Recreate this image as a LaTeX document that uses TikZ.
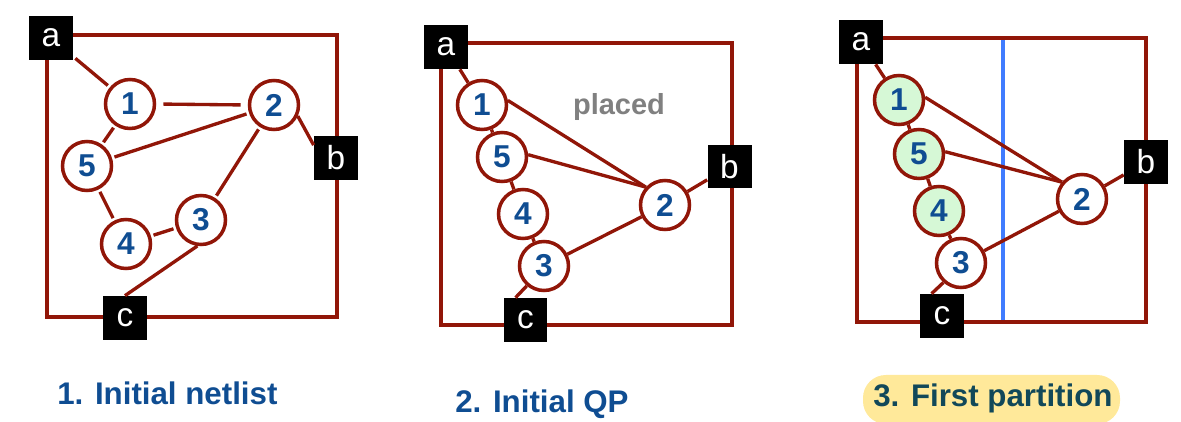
\documentclass[tikz,border=0pt]{standalone}
\usepackage{fontspec}
\setmainfont{Liberation Sans}
\definecolor{netred}{RGB}{145,22,8}
\definecolor{numblue}{RGB}{15,77,146}
\definecolor{darkteal}{RGB}{17,72,89}
\definecolor{cellgreen}{RGB}{214,248,214}
\definecolor{cutblue}{RGB}{64,124,255}
\definecolor{hilite}{RGB}{255,233,154}
\tikzset{
	frame/.style={draw=netred,line width=2.3pt},
	cell/.style={circle,draw=netred,line width=2pt,fill=white,minimum size=0.98cm,inner sep=0pt,
		text=numblue,font=\bfseries\fontsize{18}{18}\selectfont},
	placedcell/.style={cell,fill=cellgreen},
	pin/.style={fill=black,text=white,minimum size=0.88cm,inner sep=0pt,font=\fontsize{19}{19}\selectfont},
	wire/.style={draw=netred,line width=1.9pt},
	gapwire/.style={wire,shorten >=1.5pt,shorten <=1.5pt},
	caption/.style={anchor=base west,inner sep=0pt,text=numblue,font=\bfseries\fontsize{17.8}{20}\selectfont}
}
\begin{document}
\begin{tikzpicture}[x=0.02cm,y=-0.02cm]
	\useasboundingbox (0,0) rectangle (1181,422);
	% 1. initial netlist
	\draw[frame] (47,35) rectangle (337,317);
	\node[cell] (p1) at (130,104) {1};
	\node[cell] (p2) at (274,105) {2};
	\node[cell] (p3) at (201,220) {3};
	\node[cell] (p4) at (126,244) {4};
	\node[cell] (p5) at (87,166) {5};
	\node[pin] (pa) at (51,38) {a};
	\node[pin] (pb) at (336,158) {b};
	\node[pin] (pc) at (125,318) {c};
	\draw[gapwire] (pa) -- (p1);
	\draw[wire,shorten >=4pt,shorten <=4pt] (p1.east) -- (p2.west);
	\draw[gapwire] (p1) -- (p5);
	\draw[gapwire] (p5) -- (p2);
	\draw[gapwire] (p2) -- (p3);
	\draw[gapwire] (p5) -- (p4);
	\draw[gapwire] (p4) -- (p3);
	\draw[wire] (p3.262) -- (pc.north);
	\draw[wire] (p2.335) -- (pb.150);
	\node[caption] (cap1) at (57,405) {1. Initial netlist};
	% 2. initial QP
	\draw[frame] (441,43) rectangle (732,325);
	\node[text=gray,font=\bfseries\fontsize{16.5}{18}\selectfont] (lbl) at (619,107) {placed};
	\node[cell] (q1) at (482,105) {1};
	\node[cell] (q5) at (502,157) {5};
	\node[cell] (q4) at (523,214) {4};
	\node[cell] (q3) at (544,266) {3};
	\node[cell] (q2) at (665,205) {2};
	\node[pin] (qa) at (446,47) {a};
	\node[pin] (qb) at (729.5,166.5) {b};
	\node[pin] (qc) at (525.5,320) {c};
	\draw[wire] (qa) -- (q1);
	\draw[wire] (q1) -- (q5);
	\draw[wire] (q5) -- (q4);
	\draw[wire] (q4) -- (q3);
	\draw[wire] (q1.10) -- (q2.137);
	\draw[wire] (q5.5) -- (q2.137);
	\draw[wire] (q3) -- (q2);
	\draw[wire] (q2) -- (qb);
	\draw[wire] (q3.229) -- (qc.114);
	\node[caption] (cap2) at (455,413) {2. Initial QP};
	% 3. first partition
	\draw[frame] (857,38) rectangle (1146,322);
	\draw[cutblue,line width=2.2pt] (1003,40) -- (1003,320);
	\node[placedcell] (r1) at (899,100) {1};
	\node[placedcell] (r5) at (919,154) {5};
	\node[placedcell] (r4) at (939,211) {4};
	\node[cell] (r3) at (961,263) {3};
	\node[cell] (r2) at (1082,199) {2};
	\node[pin] (ra) at (861,42) {a};
	\node[pin] (rb) at (1146,162) {b};
	\node[pin] (rc) at (942,316) {c};
	\draw[wire] (ra) -- (r1);
	\draw[wire] (r1) -- (r5);
	\draw[wire] (r5) -- (r4);
	\draw[wire] (r4) -- (r3);
	\draw[wire] (r1.6) -- (r2.140);
	\draw[wire] (r5.5) -- (r2.140);
	\draw[wire] (r3) -- (r2);
	\draw[wire] (r2) -- (rb);
	\draw[wire] (r3.228) -- (rc.115);
	\fill[hilite,rounded corners=13pt] (863,375) rectangle (1120,424);
	\node[caption,text=darkteal] (cap3) at (873,407) {3. First partition};
\end{tikzpicture}
\end{document}
